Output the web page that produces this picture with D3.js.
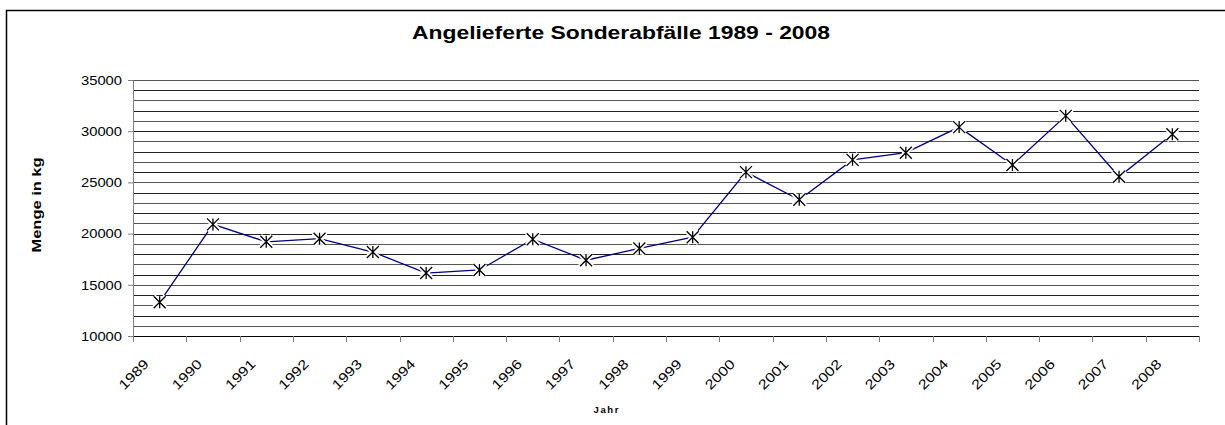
<!DOCTYPE html>
<html>
<head>
<meta charset="utf-8">
<script src="https://cdn.jsdelivr.net/npm/d3@7"></script>
<style>
  html, body { margin: 0; padding: 0; background: #fff; }
  svg { display: block; font-family: Arial, "Liberation Sans", sans-serif; }
</style>
</head>
<body>
<svg id="chart" width="1225" height="425"></svg>
<script>
// chart data
const years = ["1989", "1990", "1991", "1992", "1993", "1994", "1995", "1996", "1997", "1998",
  "1999", "2000", "2001", "2002", "2003", "2004", "2005", "2006", "2007", "2008"];
const amounts = [13300, 20900, 19200, 19500, 18200, 16150, 16450, 19450, 17400, 18550,
  19650, 26000, 23300, 27200, 27900, 30400, 26700, 31500, 25550, 29700];
const yTicks = [10000, 15000, 20000, 25000, 30000, 35000];

const width = 1225;
const height = 425;
const margin = { top: 80, right: 26, bottom: 89, left: 133 };

const $svg = d3.select("svg#chart");

// outer frame (only top and left edges are visible)
$svg.append("path")
  .attr("d", `M6.5,${height} V10.5 H${width}`)
  .attr("fill", "none")
  .attr("stroke", "#000")
  .attr("stroke-width", 1.5);

const x = d3.scaleBand()
  .domain(years)
  .range([margin.left, width - margin.right]);

const y = d3.scaleLinear()
  .domain([10000, 35000])
  .range([height - margin.bottom, margin.top]);

// horizontal gridlines every 1000
const $grid = $svg.append("g").attr("shape-rendering", "crispEdges");
$grid.selectAll("line")
  .data(d3.range(11000, 35001, 1000))
  .join("line")
  .attr("x1", margin.left)
  .attr("x2", width - margin.right)
  .attr("y1", (d) => Math.round(y(d)) + 0.5)
  .attr("y2", (d) => Math.round(y(d)) + 0.5)
  .attr("stroke", (d, i) => (i % 2 ? "#222" : "#555"))
  .attr("stroke-width", 1);

// y axis
const yAxis = $svg.append("g")
  .attr("transform", `translate(${margin.left},0)`)
  .call(d3.axisLeft(y).tickValues(yTicks).tickSize(5).tickPadding(6).tickFormat(d3.format("d")));
yAxis.attr("font-family", null).attr("font-size", null);
yAxis.select(".domain").attr("stroke", "#808080");
yAxis.selectAll(".tick line").attr("stroke", "#808080");
yAxis.selectAll("text")
  .attr("font-size", 13.5)
  .attr("fill", "#000")
  .attr("textLength", 41)
  .attr("lengthAdjust", "spacingAndGlyphs");

// x axis with ticks on category boundaries
const xAxis = $svg.append("g")
  .attr("transform", `translate(0,${height - margin.bottom})`)
  .call(d3.axisBottom(x).tickSize(0).tickFormat(""));
xAxis.attr("font-family", null).attr("font-size", null).attr("fill", null);
xAxis.select(".domain").attr("stroke", "#000");
xAxis.selectAll(".tick").remove();

const bounds = years.map((d) => x(d)).concat([x(years[years.length - 1]) + x.bandwidth()]);
xAxis.selectAll("line.bound")
  .data(bounds)
  .join("line")
  .attr("class", "bound")
  .attr("x1", (d) => Math.round(d) + 0.5)
  .attr("x2", (d) => Math.round(d) + 0.5)
  .attr("y1", 0)
  .attr("y2", 6)
  .attr("stroke", "#808080");

// rotated year labels, ending a little left of the category centre
xAxis.selectAll("text.year")
  .data(years)
  .join("text")
  .attr("class", "year")
  .attr("font-size", 13.5)
  .attr("fill", "#000")
  .attr("text-anchor", "end")
  .attr("textLength", 36)
  .attr("lengthAdjust", "spacingAndGlyphs")
  .attr("transform", (d) => `translate(${x(d) + x.bandwidth() / 2 - 10},${29}) rotate(-45)`)
  .text((d) => d);

// series line
const line = d3.line()
  .x((d, i) => x(years[i]) + x.bandwidth() / 2)
  .y((d) => y(d));

$svg.append("path")
  .datum(amounts)
  .attr("fill", "none")
  .attr("stroke", "#000080")
  .attr("stroke-width", 1.3)
  .attr("d", line);

// asterisk markers with white halo
const $marks = $svg.append("g")
  .selectAll("g")
  .data(amounts)
  .join("g")
  .attr("transform", (d, i) => `translate(${x(years[i]) + x.bandwidth() / 2},${y(d)})`);

const s = 6;
const star = `M${-s},${-s}L${s},${s}M${-s},${s}L${s},${-s}M0,${-s}L0,${s}`;
$marks.append("path")
  .attr("d", star)
  .attr("stroke", "#fff")
  .attr("stroke-width", 5);
$marks.append("path")
  .attr("d", star)
  .attr("stroke", "#000")
  .attr("stroke-width", 1.3);

// titles
$svg.append("text")
  .attr("x", 621)
  .attr("y", 39)
  .attr("text-anchor", "middle")
  .attr("font-size", 19)
  .attr("font-weight", "bold")
  .attr("textLength", 418)
  .attr("lengthAdjust", "spacingAndGlyphs")
  .text("Angelieferte Sonderabfälle 1989 - 2008");

$svg.append("text")
  .attr("transform", "translate(41,205) rotate(-90)")
  .attr("text-anchor", "middle")
  .attr("font-size", 13)
  .attr("font-weight", "bold")
  .attr("textLength", 95)
  .attr("lengthAdjust", "spacingAndGlyphs")
  .text("Menge in kg");

$svg.append("text")
  .attr("x", 606)
  .attr("y", 413)
  .attr("text-anchor", "middle")
  .attr("font-size", 9.5)
  .attr("font-weight", "bold")
  .attr("textLength", 25)
  .attr("lengthAdjust", "spacing")
  .text("Jahr");
</script>
</body>
</html>
